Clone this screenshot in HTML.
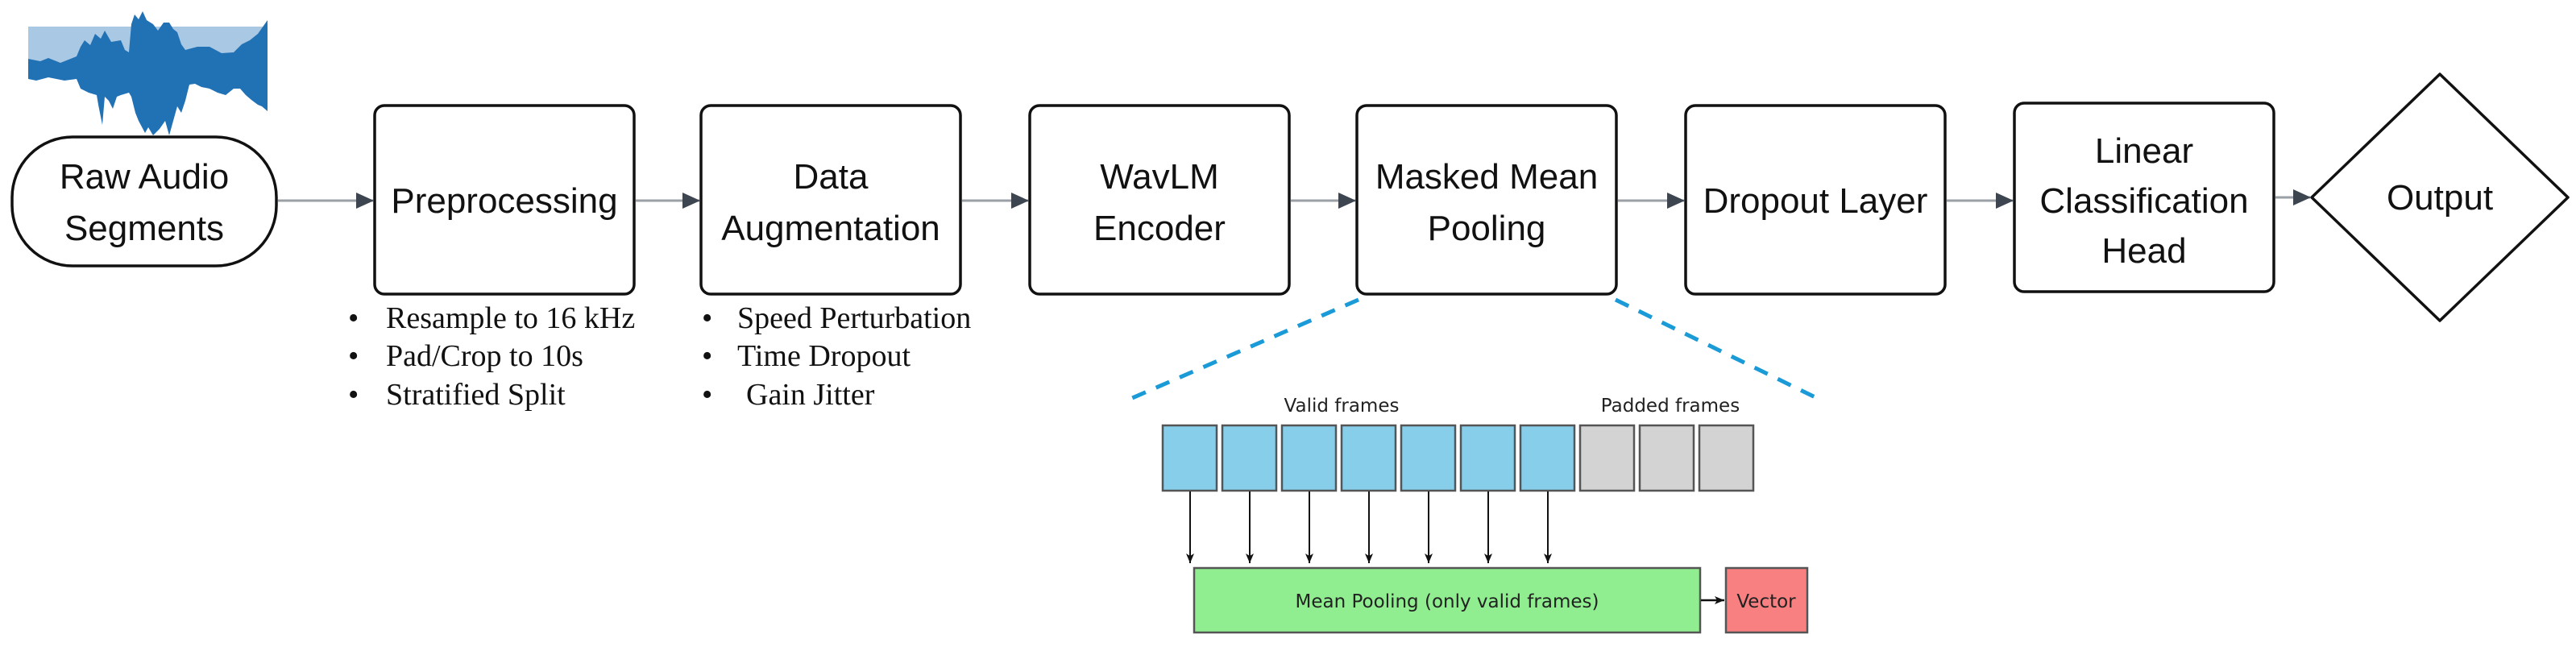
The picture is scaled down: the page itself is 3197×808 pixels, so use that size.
<!DOCTYPE html>
<html><head><meta charset="utf-8"><style>
html,body{margin:0;padding:0;background:#fff;}
svg{display:block;}
.bt{font-family:"Liberation Sans",sans-serif;font-size:44px;fill:#111;text-anchor:middle;}
.bl{font-family:"Liberation Serif",serif;font-size:38px;fill:#111;}
.sm{font-family:"DejaVu Sans","Liberation Sans",sans-serif;font-size:23px;fill:#222;text-anchor:middle;}
.box{fill:#fff;stroke:#111;stroke-width:3.5;}
.ln{stroke:#9aa0a6;stroke-width:3;}
</style></head><body>
<svg width="3197" height="808" viewBox="0 0 3197 808" xmlns="http://www.w3.org/2000/svg">
<defs>
<marker id="ah" markerWidth="22" markerHeight="20" refX="21" refY="10" orient="auto" markerUnits="userSpaceOnUse" viewBox="0 0 22 20"><path d="M0,0 L22,10 L0,20 z" fill="#3d4550"/></marker>
<marker id="sa" markerWidth="12" markerHeight="10" refX="12" refY="5" orient="auto" markerUnits="userSpaceOnUse" viewBox="0 0 12 10"><path d="M0,0 L12,5 L0,10 L3,5 z" fill="#111"/></marker>
</defs>
<!-- waveform -->
<rect x="35" y="33" width="297" height="45" fill="#a9c8e4"/>
<path fill="#2171b5" d="M35,73 L50,76 L60,72 L75,78 L95,70 L100,58 L105,50 L112,56 L118,42 L125,48 L130,38 L138,52 L150,50 L155,62 L160,65 L163,30 L167,18 L172,24 L177,14 L182,25 L190,30 L196,38 L203,28 L210,28 L215,36 L220,40 L225,55 L230,62 L245,58 L260,58 L275,66 L290,65 L300,55 L310,50 L320,42 L332,25 L332,138 L325,132 L320,130 L312,124 L305,118 L298,110 L290,110 L280,118 L270,115 L260,110 L250,108 L242,104 L235,105 L230,125 L225,140 L220,132 L215,150 L210,168 L205,150 L198,160 L190,168 L184,158 L180,165 L172,150 L168,140 L163,120 L160,115 L150,118 L145,120 L140,135 L135,125 L130,120 L127,155 L122,130 L120,118 L110,115 L100,110 L95,98 L80,100 L60,96 L45,100 L35,98 z"/>
<!-- raw audio stadium -->
<rect x="15" y="170" width="328" height="160" rx="75" ry="75" class="box"/>
<text x="179" y="234" class="bt">Raw Audio</text>
<text x="179" y="298" class="bt">Segments</text>
<!-- boxes -->
<rect x="465" y="131" width="322" height="234" rx="12" class="box"/>
<text x="626" y="264" class="bt">Preprocessing</text>
<rect x="870" y="131" width="322" height="234" rx="12" class="box"/>
<text x="1031" y="234" class="bt">Data</text>
<text x="1031" y="298" class="bt">Augmentation</text>
<rect x="1278" y="131" width="322" height="234" rx="12" class="box"/>
<text x="1439" y="234" class="bt">WavLM</text>
<text x="1439" y="298" class="bt">Encoder</text>
<rect x="1684" y="131" width="322" height="234" rx="12" class="box"/>
<text x="1845" y="234" class="bt">Masked Mean</text>
<text x="1845" y="298" class="bt">Pooling</text>
<rect x="2092" y="131" width="322" height="234" rx="12" class="box"/>
<text x="2253" y="264" class="bt">Dropout Layer</text>
<rect x="2500" y="128" width="322" height="234" rx="12" class="box"/>
<text x="2661" y="202" class="bt">Linear</text>
<text x="2661" y="264" class="bt">Classification</text>
<text x="2661" y="326" class="bt">Head</text>
<path d="M3028,92 L3187,245 L3028,398 L2869,245 z" class="box" stroke-linejoin="round"/>
<text x="3028" y="260" class="bt">Output</text>
<!-- arrows -->
<line x1="345" y1="249" x2="463" y2="249" class="ln" marker-end="url(#ah)"/>
<line x1="789" y1="249" x2="868" y2="249" class="ln" marker-end="url(#ah)"/>
<line x1="1194" y1="249" x2="1276" y2="249" class="ln" marker-end="url(#ah)"/>
<line x1="1602" y1="249" x2="1682" y2="249" class="ln" marker-end="url(#ah)"/>
<line x1="2008" y1="249" x2="2090" y2="249" class="ln" marker-end="url(#ah)"/>
<line x1="2416" y1="249" x2="2498" y2="249" class="ln" marker-end="url(#ah)"/>
<line x1="2824" y1="245" x2="2867" y2="245" class="ln" marker-end="url(#ah)"/>
<!-- bullets -->
<g class="bl">
<text x="432" y="407">•</text><text x="479" y="407">Resample to 16 kHz</text>
<text x="432" y="454">•</text><text x="479" y="454">Pad/Crop to 10s</text>
<text x="432" y="502">•</text><text x="479" y="502">Stratified Split</text>
<text x="871" y="407">•</text><text x="915" y="407">Speed Perturbation</text>
<text x="871" y="454">•</text><text x="915" y="454">Time Dropout</text>
<text x="871" y="502">•</text><text x="926" y="502">Gain Jitter</text>
</g>
<!-- dashed zoom lines -->
<line x1="1686" y1="372" x2="1396" y2="498" stroke="#1a9ad6" stroke-width="5" stroke-dasharray="18,14"/>
<line x1="2005" y1="372" x2="2263" y2="498" stroke="#1a9ad6" stroke-width="5" stroke-dasharray="18,14"/>
<!-- frames -->
<text x="1665" y="511" class="sm">Valid frames</text>
<text x="2073" y="511" class="sm">Padded frames</text>
<g stroke="#555" stroke-width="2.5">
<rect x="1443" y="528" width="67" height="81" fill="#87ceeb"/>
<rect x="1517" y="528" width="67" height="81" fill="#87ceeb"/>
<rect x="1591" y="528" width="67" height="81" fill="#87ceeb"/>
<rect x="1665" y="528" width="67" height="81" fill="#87ceeb"/>
<rect x="1739" y="528" width="67" height="81" fill="#87ceeb"/>
<rect x="1813" y="528" width="67" height="81" fill="#87ceeb"/>
<rect x="1887" y="528" width="67" height="81" fill="#87ceeb"/>
<rect x="1961" y="528" width="67" height="81" fill="#d3d3d3"/>
<rect x="2035" y="528" width="67" height="81" fill="#d3d3d3"/>
<rect x="2109" y="528" width="67" height="81" fill="#d3d3d3"/>
</g>
<g stroke="#111" stroke-width="2">
<line x1="1477" y1="610" x2="1477" y2="699" marker-end="url(#sa)"/>
<line x1="1551" y1="610" x2="1551" y2="699" marker-end="url(#sa)"/>
<line x1="1625" y1="610" x2="1625" y2="699" marker-end="url(#sa)"/>
<line x1="1699" y1="610" x2="1699" y2="699" marker-end="url(#sa)"/>
<line x1="1773" y1="610" x2="1773" y2="699" marker-end="url(#sa)"/>
<line x1="1847" y1="610" x2="1847" y2="699" marker-end="url(#sa)"/>
<line x1="1921" y1="610" x2="1921" y2="699" marker-end="url(#sa)"/>
</g>
<rect x="1482" y="705" width="628" height="80" fill="#90ee90" stroke="#555" stroke-width="2.5"/>
<text x="1796" y="754" class="sm">Mean Pooling (only valid frames)</text>
<line x1="2111" y1="745" x2="2140" y2="745" stroke="#111" stroke-width="2.5" marker-end="url(#sa)"/>
<rect x="2142" y="705" width="101" height="80" fill="#f88080" stroke="#555" stroke-width="2.5"/>
<text x="2192" y="754" class="sm">Vector</text>
</svg>
</body></html>
